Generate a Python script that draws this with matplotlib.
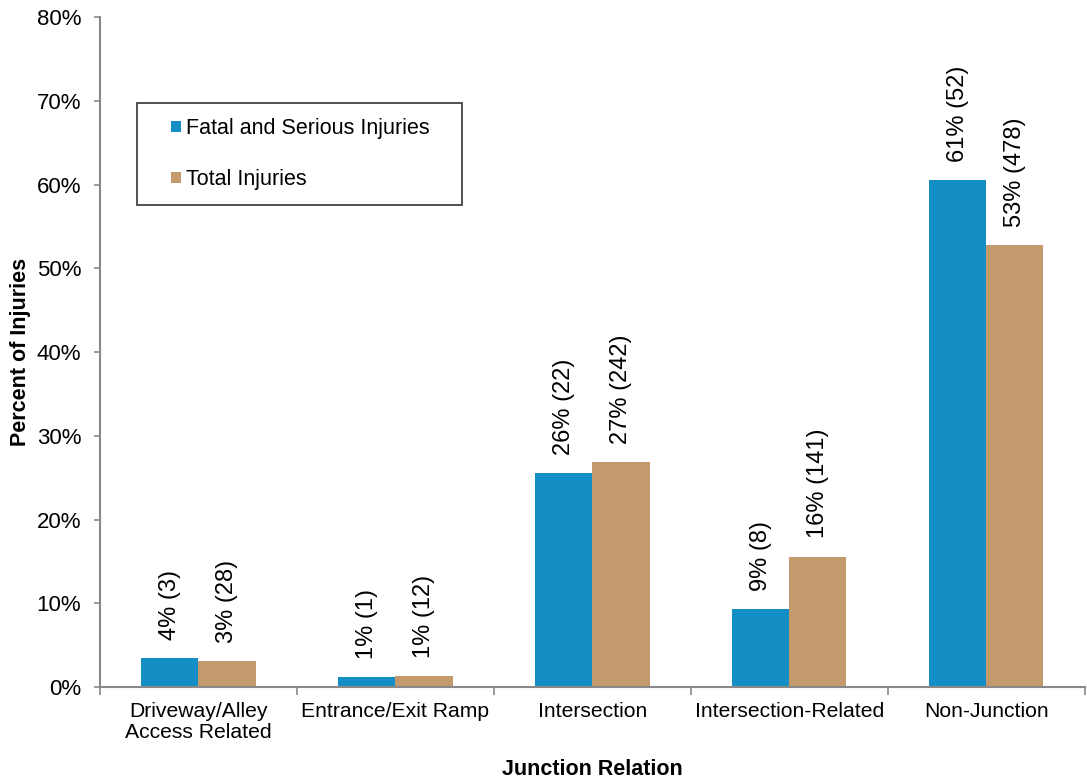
import numpy as np
import matplotlib.pyplot as plt
from matplotlib.patches import Rectangle
from matplotlib.legend_handler import HandlerPatch
from matplotlib.ticker import PercentFormatter

plt.rcParams['font.family'] = ['Liberation Sans', 'DejaVu Sans']

# Data
categories = ['Driveway/Alley\nAccess Related', 'Entrance/Exit Ramp',
              'Intersection', 'Intersection-Related', 'Non-Junction']
fatal_pct = [3.5, 1.2, 25.6, 9.3, 60.5]
total_pct = [3.1, 1.3, 26.9, 15.6, 52.8]
fatal_labels = ['4% (3)', '1% (1)', '26% (22)', '9% (8)', '61% (52)']
total_labels = ['3% (28)', '1% (12)', '27% (242)', '16% (141)', '53% (478)']
series_names = ['Fatal and Serious Injuries', 'Total Injuries']

blue = '#138FC5'
tan = '#C4996B'
axis_gray = '#898989'


def square_right(legend, orig_handle, xdescent, ydescent, width, height, fontsize):
    # small square sitting at the right end of the handle box
    s = 0.5 * fontsize
    return Rectangle((-xdescent + width - s, -ydescent + (height - s) / 2), s, s)


fig = plt.figure(figsize=(10.87, 7.8), dpi=100)
ax = fig.add_axes([0.092, 0.119, 0.906, 0.859])

x = np.arange(len(categories))
w = 0.29
b1 = ax.bar(x - w / 2, fatal_pct, w, color=blue)
b2 = ax.bar(x + w / 2, total_pct, w, color=tan)

# value labels above bars, rotated
for bars, labels in ((b1, fatal_labels), (b2, total_labels)):
    for bar, lab in zip(bars, labels):
        ax.annotate(lab, (bar.get_x() + bar.get_width() / 2, bar.get_height()),
                    xytext=(0, 13), textcoords='offset points', rotation=90,
                    ha='center', va='bottom', fontsize=17)

ax.set_xlim(-0.5, len(categories) - 0.5)
ax.set_ylim(0, 80)
ax.set_yticks(np.arange(0, 81, 10))
ax.yaxis.set_major_formatter(PercentFormatter(decimals=0))

ax.set_xticks(x)
ax.set_xticklabels(categories, fontsize=15.2, linespacing=1.1)
ax.set_xticks(np.arange(-0.5, len(categories), 1), minor=True)
ax.tick_params(axis='x', which='major', length=0, pad=11)
ax.tick_params(axis='x', which='minor', length=6, color=axis_gray, width=1.2)
ax.tick_params(axis='y', length=4.5, color=axis_gray, width=1.2, labelsize=16, pad=9)

for side in ('top', 'right'):
    ax.spines[side].set_visible(False)
for side in ('left', 'bottom'):
    ax.spines[side].set_color(axis_gray)
    ax.spines[side].set_linewidth(1.5)

ax.set_ylabel('Percent of Injuries', fontsize=15.5, fontweight='bold', labelpad=4)
ax.set_xlabel('Junction Relation', fontsize=15.5, fontweight='bold', labelpad=12)

leg = ax.legend([b1.patches[0], b2.patches[0]],
                [series_names[0] + '   ', series_names[1]],
                loc='upper left', bbox_to_anchor=(0.0375, 0.8725), fontsize=15.5,
                frameon=True, fancybox=False, edgecolor='black',
                handler_map={Rectangle: HandlerPatch(patch_func=square_right)},
                handlelength=1.37, handleheight=0.7, handletextpad=0.2,
                labelspacing=1.4, borderpad=0.7, borderaxespad=0)
leg.get_frame().set_linewidth(1.2)

fig.savefig('out.png', dpi=100)
